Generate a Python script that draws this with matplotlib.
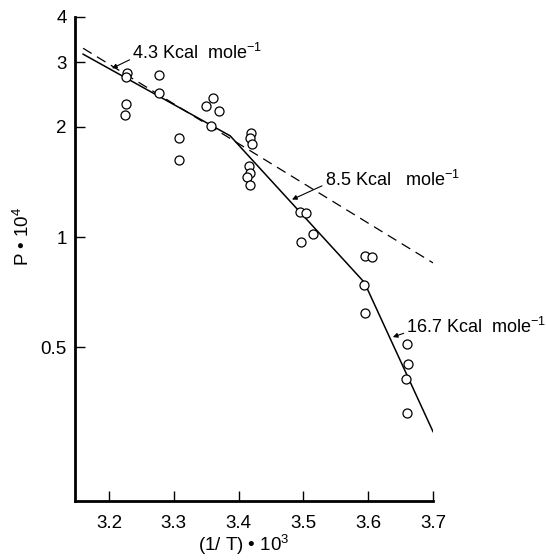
import matplotlib
matplotlib.use('Agg')
import matplotlib.pyplot as plt
from matplotlib.ticker import FixedLocator, NullLocator, FixedFormatter

plt.rcParams['font.family'] = ['Liberation Sans', 'DejaVu Sans']
plt.rcParams['mathtext.fontset'] = 'custom'
plt.rcParams['mathtext.rm'] = 'Liberation Sans'
plt.rcParams['mathtext.default'] = 'regular'

# measured points, (1/T)*10^3 vs P*10^4
inv_t = [3.228, 3.226, 3.226, 3.225, 3.277, 3.277, 3.308, 3.308,
         3.350, 3.361, 3.370, 3.357, 3.419, 3.418, 3.421, 3.416,
         3.418, 3.413, 3.418, 3.495, 3.504, 3.515, 3.496, 3.595,
         3.606, 3.594, 3.595, 3.660, 3.661, 3.658, 3.660]
p_val = [2.81, 2.74, 2.31, 2.16, 2.77, 2.48, 1.87, 1.62,
         2.28, 2.40, 2.21, 2.01, 1.93, 1.86, 1.80, 1.56,
         1.50, 1.46, 1.39, 1.17, 1.16, 1.02, 0.97, 0.89,
         0.88, 0.74, 0.62, 0.51, 0.45, 0.41, 0.33]

# fitted segments (4.3, 8.5, 16.7 Kcal/mole)
fit_x = [3.160, 3.387, 3.594, 3.700]
fit_y = [3.16, 1.89, 0.752, 0.294]

# extrapolation of the low-temperature slope
dash_x = [3.160, 3.700]
dash_y = [3.28, 0.85]

y_ticks = [0.5, 1, 2, 3, 4]
y_labels = ['0.5', '1', '2', '3', '4']
x_ticks = [3.2, 3.3, 3.4, 3.5, 3.6, 3.7]

fig = plt.figure(figsize=(5.46, 5.60), dpi=100)
ax = fig.add_axes([75/546, 1 - 501/560, 358/546, 484.3/560])

ax.plot(fit_x, fit_y, color='black', lw=1.1, zorder=2)
ax.plot(dash_x, dash_y, color='black', lw=0.9, ls=(0, (8, 5)), zorder=2)
ax.plot(inv_t, p_val, 'o', ms=6.5, mfc='white', mec='black', mew=0.9,
        ls='none', zorder=3)

ax.set_yscale('log')
ax.set_xlim(3.1475, 3.70)
ax.set_ylim(0.19, 4.0)
ax.yaxis.set_major_locator(FixedLocator(y_ticks))
ax.yaxis.set_major_formatter(FixedFormatter(y_labels))
ax.yaxis.set_minor_locator(NullLocator())
ax.set_xticks(x_ticks)
ax.set_xticklabels([f'{v:.1f}' for v in x_ticks])

for side in ['top', 'right']:
    ax.spines[side].set_visible(False)
for side in ['left', 'bottom']:
    ax.spines[side].set_linewidth(2)

ax.tick_params(axis='both', direction='in', length=7, width=1, labelsize=13.5)
ax.tick_params(axis='x', pad=10)
ax.tick_params(axis='y', pad=6)

ax.set_xlabel('(1/ T) • 10$^{3}$', fontsize=13.5)
ax.set_ylabel('P • 10$^{4}$', fontsize=13.5)
ax.xaxis.set_label_coords(0.472, -0.066)
ax.yaxis.set_label_coords(-0.117, 0.547)

arrow = dict(arrowstyle='-|>', lw=0.8, color='black', mutation_scale=7,
             shrinkA=0, shrinkB=0)
ax.annotate('4.3 Kcal  mole$^{-1}$', xy=(3.2046, 2.89), xytext=(3.236, 3.056),
            fontsize=13, va='baseline', ha='left',
            arrowprops=dict(arrow, relpos=(0, 0.25)))
ax.annotate('8.5 Kcal   mole$^{-1}$', xy=(3.4824, 1.266), xytext=(3.533, 1.382),
            fontsize=13, va='baseline', ha='left',
            arrowprops=dict(arrow, relpos=(0, 0.25)))
ax.annotate('16.7 Kcal  mole$^{-1}$', xy=(3.638, 0.533), xytext=(3.659, 0.5455),
            fontsize=13, va='baseline', ha='left', annotation_clip=False,
            arrowprops=dict(arrow, relpos=(0, 0.25)))

fig.savefig('out.png', dpi=100)
